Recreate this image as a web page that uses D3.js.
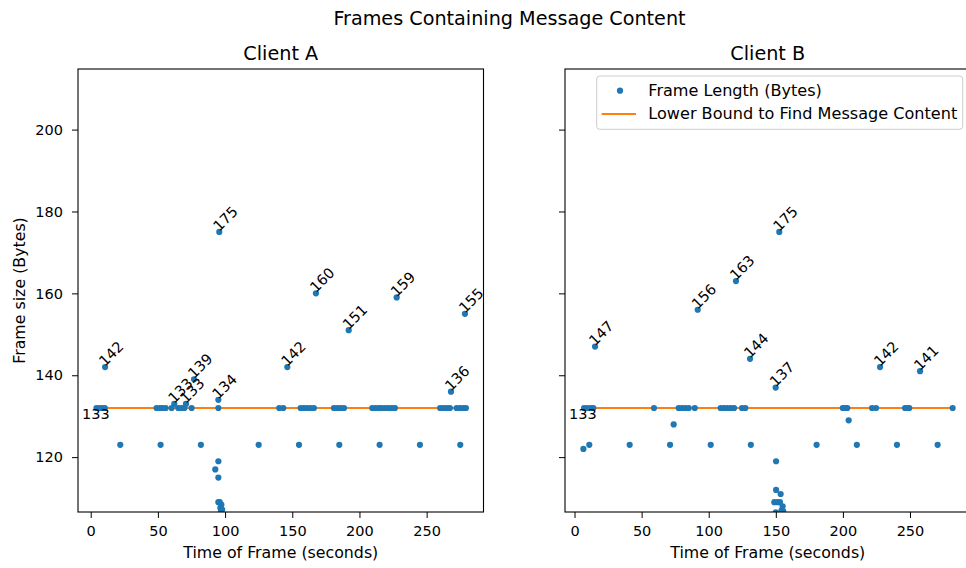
<!DOCTYPE html>
<html><head><meta charset="utf-8">
<script src="https://cdn.jsdelivr.net/npm/d3@7"></script>
<style>
body{margin:0;background:#fff}
text{font-family:"DejaVu Sans",sans-serif;fill:#000}
</style>
</head><body><svg id="c" width="966" height="568"></svg>
<script>
// ---- data ----
const timesA=[4.3,6.5,8.7,10.5,10.7,22,49,51.5,53.5,55.8,52,60.2,62.2,65.2,67.4,69.7,70.9,75.1,76.9,82,
  92.7,95,95,95,95,95.7,95,96,97.2,96.5,97.8,97,125,140.3,143.3,146.3,155,156.2,158.7,161.2,163.7,166.1,
  167.6,181,183.5,186,188.5,185,192,209.5,212,214.5,216.5,219,221.5,224,226.4,215,227.7,245,
  260,262.4,265,267.3,268.1,272.3,274.8,277.2,279.2,275,278.5];
const sizesA=[132,132,132,132,142,123,132,132,132,132,123,132,133,132,132,132,133,132,139,123,
  117,119,115,132,134,175,109,109,108.4,107.6,107.2,106.8,123,132,132,142,123,132,132,132,132,132,
  160,132,132,132,132,123,151,132,132,132,132,132,132,132,132,123,159,123,
  132,132,132,132,136,132,132,132,132,123,155];
const timesB=[6.6,7.1,9.5,12.1,14,11,15.3,41.1,59.2,71.2,73.9,77.6,80.1,82.6,85.1,89.6,91.8,101.5,
  108.9,111.4,113.9,116.4,118.9,120.3,124.8,127.3,130.8,131.4,149.9,
  150.2,150.2,153.6,148.9,151.4,153.1,155.1,154.3,150,155.5,152.6,180.4,
  199.9,201.8,203.3,204.3,210.4,221.7,224.7,227.7,240.3,246.3,248,249.5,257.5,270.6,281.8];
const sizesB=[122,132,132,132,132,123,147,123,132,123,128,132,132,132,132,132,156,123,
  132,132,132,132,132,163,132,132,144,123,137,
  119,112,111,109,109,109,108,107,106.5,106.8,175,123,
  132,132,132,129,123,132,132,142,123,132,132,132,141,123,132];
const lowerBound=132;
const boundLabel="133";
const panelTitles=["Client A","Client B"];
const xTicks=[0,50,100,150,200,250];
const yTicks=[120,140,160,180,200];
const suptitle="Frames Containing Message Content";
const xLabel="Time of Frame (seconds)";
const yLabel="Frame size (Bytes)";
const legendLabels=["Frame Length (Bytes)","Lower Bound to Find Message Content"];

// ---- layout ----
const BLUE="#1f77b4", ORANGE="#ff7f0e";
const axTop=69, axBottom=512;
const panels=[
  {title:panelTitles[0], x0:78, x1:483.5, dom:[-9.45,292.3], t:timesA, s:sizesA, ylab:true},
  {title:panelTitles[1], x0:565, x1:970.5, dom:[-7.1,295.1], t:timesB, s:sizesB, ylab:false}
];
const svg=d3.select("#c");
const yScale=d3.scaleLinear().domain([106.6,214.8]).range([axBottom,axTop]);

svg.append("text").attr("x",509.5).attr("y",25).attr("text-anchor","middle")
  .style("font-size","19.2px").text(suptitle);

panels.forEach((p,i)=>{
  const x=d3.scaleLinear().domain(p.dom).range([p.x0,p.x1]);
  const g=svg.append("g");
  const cid="clip"+i;
  svg.append("defs").append("clipPath").attr("id",cid).append("rect")
    .attr("x",p.x0).attr("y",axTop).attr("width",p.x1-p.x0).attr("height",axBottom-axTop);

  // lower bound line
  const ext=d3.extent(p.t);
  g.append("line").attr("clip-path",`url(#${cid})`)
    .attr("x1",x(ext[0])).attr("x2",x(ext[1]))
    .attr("y1",yScale(lowerBound)).attr("y2",yScale(lowerBound))
    .attr("stroke",ORANGE).attr("stroke-width",2.1).attr("stroke-linecap","square");

  // points
  const pts=p.t.map((t,k)=>({t,s:p.s[k]}));
  g.append("g").attr("clip-path",`url(#${cid})`).selectAll("circle").data(pts).join("circle")
    .attr("cx",d=>x(d.t)).attr("cy",d=>yScale(d.s)).attr("r",3.1).attr("fill",BLUE);

  // annotations
  g.append("g").selectAll("text").data(pts.filter(d=>d.s>lowerBound)).join("text")
    .attr("transform",d=>`translate(${x(d.t)},${yScale(d.s)}) rotate(-45)`)
    .style("font-size","14.5px").text(d=>d.s);

  g.append("text").attr("x",p.x0+4).attr("y",419.3).style("font-size","14.5px").text(boundLabel);

  // axes
  const ax=g.append("g").attr("transform",`translate(0,${axBottom})`)
    .call(d3.axisBottom(x).tickValues(xTicks).tickSize(6).tickPadding(8).tickFormat(d3.format("d")));
  ax.select(".domain").remove();
  ax.selectAll("text").style("font-size","14.5px").attr("fill","#000");
  ax.selectAll("line").attr("stroke","#000").attr("stroke-width",1);
  const ay=g.append("g").attr("transform",`translate(${p.x0},0)`)
    .call(d3.axisLeft(yScale).tickValues(yTicks).tickSize(6).tickPadding(9)
      .tickFormat(p.ylab?d3.format("d"):()=>""));
  ay.select(".domain").remove();
  ay.selectAll("text").style("font-size","14.5px").attr("fill","#000");
  ay.selectAll("line").attr("stroke","#000").attr("stroke-width",1);

  // spines
  g.append("rect").attr("x",p.x0).attr("y",axTop).attr("width",p.x1-p.x0).attr("height",axBottom-axTop)
    .attr("fill","none").attr("stroke","#000").attr("stroke-width",1.1);

  g.append("text").attr("x",(p.x0+p.x1)/2).attr("y",60).attr("text-anchor","middle")
    .style("font-size","19.2px").text(p.title);
  g.append("text").attr("x",(p.x0+p.x1)/2).attr("y",558).attr("text-anchor","middle")
    .style("font-size","15.8px").text(xLabel);
  if(p.ylab){
    g.append("text").attr("transform",`translate(25,${(axTop+axBottom)/2}) rotate(-90)`)
      .attr("text-anchor","middle").style("font-size","15.8px").text(yLabel);
  }
});

// legend
const lg=svg.append("g");
lg.append("rect").attr("x",596.7).attr("y",76).attr("width",366).attr("height",53.3).attr("rx",3)
  .attr("fill","#fff").attr("fill-opacity",0.8).attr("stroke","#cccccc").attr("stroke-width",1);
lg.append("circle").attr("cx",620).attr("cy",90.7).attr("r",3.1).attr("fill",BLUE);
lg.append("line").attr("x1",601.7).attr("x2",636).attr("y1",114).attr("y2",114)
  .attr("stroke",ORANGE).attr("stroke-width",2.1);
lg.append("text").attr("x",648.3).attr("y",95.5).style("font-size","16.1px").text(legendLabels[0]);
lg.append("text").attr("x",648.3).attr("y",118.8).style("font-size","16.1px").text(legendLabels[1]);
</script>
</body></html>
